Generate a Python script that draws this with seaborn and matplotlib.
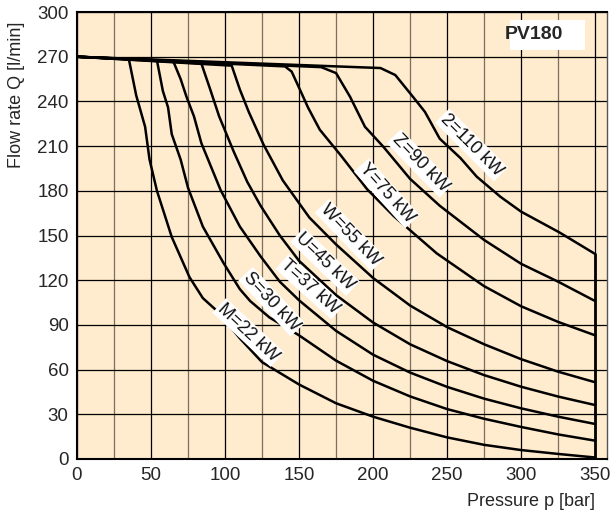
import matplotlib
matplotlib.use("Agg")
import matplotlib.pyplot as plt
import seaborn as sns

# PV180 power limit curves
# pressure p [bar] / flow rate Q [l/min]
m_p = [0, 35, 40, 46, 49, 54, 64, 76, 85, 95, 110, 125, 150, 175, 200, 225, 250, 275, 300, 325, 350]
m_q = [270, 268.5, 244, 223, 201, 180, 149, 122, 108, 99, 81, 65, 50, 37.4, 28.4, 21, 14.5, 9.5, 6, 3.4, 1]

s_p = [0, 54, 58, 61.5, 64, 70, 75, 85, 99, 110, 117, 130, 150, 175, 200, 225, 250, 275, 300, 325, 350]
s_q = [270, 267.5, 247, 236, 218, 201, 182, 156, 131.5, 114, 106, 95, 83, 66, 52.5, 42, 33.5, 27, 21.5, 16.5, 12.3]

t_p = [0, 65, 70, 74, 79, 84, 97, 110, 124, 137, 150, 175, 200, 225, 250, 275, 300, 325, 350]
t_q = [270, 267, 255, 243, 230, 212, 180.5, 156, 136, 119, 106.5, 86, 70, 58, 48.4, 40.5, 34, 28.4, 23.5]

u_p = [0, 84, 90, 96, 106, 115, 124, 137, 150, 175, 200, 225, 250, 275, 300, 325, 350]
u_q = [270, 265.5, 248, 230, 206, 186, 170, 150, 133, 110, 91.6, 77, 65.7, 56.3, 48.5, 41.9, 36.2]

w_p = [0, 104.5, 110, 116, 126, 139, 157, 175, 200, 225, 250, 275, 300, 325, 350]
w_q = [270, 264, 248, 233, 211, 187, 162, 144, 121.5, 103, 88.5, 77, 67, 58.6, 51.5]

y_p = [0, 140.5, 145, 151, 156, 164, 178, 196, 214, 243, 275, 300, 325, 350]
y_q = [270, 263.5, 260, 247, 236, 221, 204, 181, 163, 138, 116, 102.5, 92, 83]

z_p = [0, 165, 175, 184.5, 194.5, 207, 225, 245, 275, 300, 325, 350]
z_q = [270, 263, 259, 243, 223, 209.5, 188, 170, 147, 131, 119, 106]

k_p = [0, 205, 215, 227, 235, 245, 259, 270, 286, 300, 326, 350]
k_q = [270, 262.4, 257.7, 243, 233, 215, 202, 189.5, 176, 166, 152, 137.6]

curve_names = ["M=22 kW", "S=30 kW", "T=37 kW", "U=45 kW", "W=55 kW", "Y=75 kW", "Z=90 kW", "2=110 kW"]
# label anchor (p, Q) and text angle
label_p = [115.7, 131.5, 157.4, 167.6, 184.5, 209.3, 231.8, 266.5]
label_q = [84.9, 105.6, 115.6, 132.4, 150.3, 178.3, 198.4, 210.7]
label_rot = [-43, -47, -42, -44, -46, -48, -46, -45]

x_ticks = [0, 50, 100, 150, 200, 250, 300, 350]
y_ticks = [0, 30, 60, 90, 120, 150, 180, 210, 240, 270, 300]

curves = [(m_p, m_q), (s_p, s_q), (t_p, t_q), (u_p, u_q),
          (w_p, w_q), (y_p, y_q), (z_p, z_q), (k_p, k_q)]

sns.set_theme(style="white")
plt.rcParams['font.family'] = ['Liberation Sans', 'DejaVu Sans']

fig = plt.figure(figsize=(6.15, 5.18), dpi=100)
ax = fig.add_axes([0.1252, 0.1139, 0.8618, 0.8629])
ax.set_facecolor('#ffebcd')

for p, q in curves:
    sns.lineplot(x=p, y=q, color='black', linewidth=1.8, sort=False,
                 estimator=None, ax=ax)

# max pressure cut-off at 350 bar
ax.plot([350, 350], [0, k_q[-1]], color='black', lw=2.0)

for name, lp, lq, rot in zip(curve_names, label_p, label_q, label_rot):
    ax.text(lp, lq, name, rotation=rot, rotation_mode='anchor',
            ha='center', va='center', fontsize=13, color='#111111',
            bbox=dict(facecolor='white', edgecolor='none', pad=1.0), zorder=5)

# model badge
ax.add_patch(plt.Rectangle((292.5, 274.5), 50.5, 20, facecolor='white',
                           edgecolor='none', zorder=4))
ax.text(289, 284.6, "PV180", fontsize=14, fontweight='bold',
        ha='left', va='center', zorder=5)

ax.set_xlim(0, 358)
ax.set_ylim(0, 300)
ax.set_xticks(x_ticks)
ax.set_xticks(range(25, 351, 50), minor=True)
ax.set_yticks(y_ticks)
ax.set_axisbelow(True)
ax.grid(which='major', color='black', lw=0.9)
ax.grid(which='minor', axis='x', color='#7d6f60', lw=0.9)
ax.tick_params(which='both', length=0, labelsize=13.5, pad=6)

for side in ['left', 'bottom', 'top']:
    ax.spines[side].set_color('black')
    ax.spines[side].set_linewidth(1.5)
ax.spines['right'].set_color('#555555')
ax.spines['right'].set_linewidth(1.0)

ax.set_ylabel("Flow rate Q [l/min]", fontsize=13)
ax.yaxis.set_label_coords(-0.098, 0.814)
ax.set_xlabel("Pressure p [bar]", fontsize=13, ha='right', va='top')
ax.xaxis.set_label_coords(0.977, -0.076)

fig.savefig("out.png", dpi=100)
